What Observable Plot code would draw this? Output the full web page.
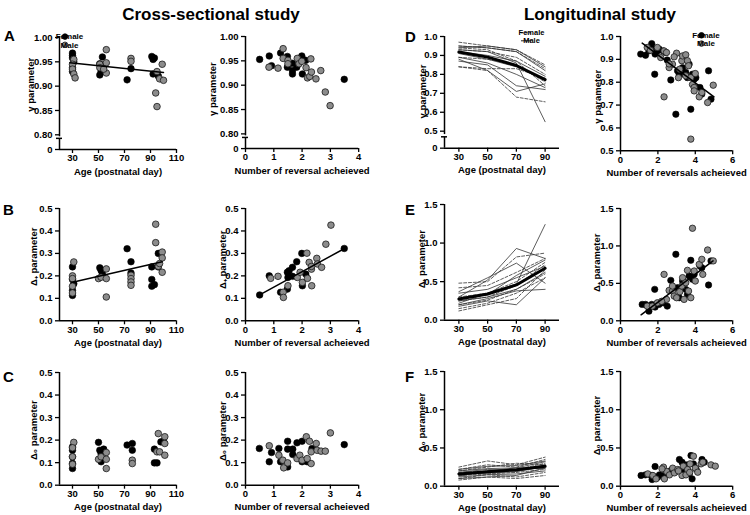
<!DOCTYPE html>
<html><head><meta charset="utf-8">
<script src="https://cdn.jsdelivr.net/npm/d3@7"></script>
<script src="https://cdn.jsdelivr.net/npm/@observablehq/plot@0.6"></script>
<style>
body{margin:0;background:#fff;}
#fig{position:relative;width:750px;height:515px;overflow:hidden;background:#fff;}
</style></head><body><div id="fig"></div>
<script>
// ---------------- DATA ----------------
const ageTicksCS = [30, 50, 70, 90, 110];
const revTicksCS = [0, 1, 2, 3, 4];
const ageTicksL = [30, 50, 70, 90];
const revTicksL = [0, 2, 4, 6];
const sexLabels = ["Female", "Male"];

// Cross-sectional: gamma vs age
const csAgeGammaF = [[30,0.968],[30,0.963],[30,0.958],[31,0.950],[30,0.938],[30,0.930],[51,0.946],[53,0.960],[52,0.930],[51,0.923],[54,0.940],[72,0.913],[75,0.936],[91,0.961],[92,0.955],[93,0.958],[92,0.925],[96,0.921]];
const csAgeGammaM = [[31,0.955],[30,0.945],[30,0.935],[31,0.925],[32,0.917],[51,0.945],[51,0.938],[56,0.975],[56,0.948],[56,0.927],[54,0.935],[75,0.957],[75,0.951],[95,0.930],[99,0.945],[97,0.915],[100,0.912],[94,0.886],[95,0.858]];
const csAgeGammaFit = [[28,0.948],[100,0.928]];
// Cross-sectional: gamma vs reversals
const csRevGammaF = [[0.5,0.953],[0.84,0.960],[0.92,0.940],[1.24,0.966],[1.48,0.959],[1.48,0.937],[1.54,0.944],[1.66,0.945],[1.66,0.930],[1.66,0.923],[1.81,0.937],[1.99,0.960],[2.01,0.954],[2.01,0.923],[2.13,0.951],[3.49,0.912]];
const csRevGammaM = [[0.83,0.937],[1.15,0.935],[1.33,0.975],[1.33,0.955],[1.5,0.951],[1.5,0.944],[1.83,0.955],[1.89,0.944],[1.99,0.949],[2.14,0.936],[2.19,0.915],[2.27,0.918],[2.31,0.954],[2.33,0.927],[2.49,0.913],[2.66,0.930],[2.82,0.886],[2.99,0.858]];
// Cross-sectional: delta+ vs age
const csAgeDplusF = [[30,0.24],[30,0.184],[30,0.136],[30,0.113],[31,0.165],[51,0.236],[52,0.224],[53,0.209],[72,0.321],[75,0.263],[75,0.213],[91,0.24],[91,0.184],[93,0.161],[91,0.154],[96,0.24],[96,0.30]];
const csAgeDplusM = [[31,0.262],[30,0.2],[30,0.188],[30,0.154],[30,0.124],[50,0.188],[52,0.194],[56,0.231],[56,0.188],[56,0.106],[75,0.203],[75,0.188],[75,0.173],[75,0.158],[94,0.43],[94,0.348],[96,0.243],[99,0.306],[99,0.28],[99,0.216],[97,0.255]];
const csAgeDplusFit = [[30,0.172],[99,0.263]];
// Cross-sectional: delta+ vs reversals
const csRevDplusF = [[0.5,0.115],[0.84,0.2],[1.24,0.127],[1.48,0.141],[1.48,0.216],[1.54,0.223],[1.66,0.238],[1.66,0.198],[1.81,0.263],[1.99,0.3],[2.01,0.156],[2.13,0.208],[3.49,0.322],[1.5,0.193]];
const csRevDplusM = [[0.89,0.189],[1.15,0.198],[1.33,0.127],[1.34,0.104],[1.5,0.156],[1.83,0.193],[1.93,0.216],[2.01,0.171],[2.17,0.301],[2.19,0.189],[2.25,0.26],[2.33,0.23],[2.34,0.156],[2.52,0.278],[2.54,0.253],[2.69,0.238],[2.84,0.341],[3.02,0.426],[2.33,0.242]];
const csRevDplusFit = [[0.5,0.115],[3.5,0.322]];
// Cross-sectional: delta0 vs age
const csAgeDzeroF = [[30,0.155],[30,0.126],[30,0.097],[30,0.074],[30,0.17],[50,0.19],[51,0.155],[52,0.14],[52,0.104],[54,0.16],[72,0.178],[76,0.185],[76,0.155],[93,0.16],[93,0.099],[95,0.099],[98,0.192],[100,0.195]];
const csAgeDzeroM = [[31,0.19],[30,0.166],[30,0.126],[30,0.093],[50,0.115],[52,0.126],[56,0.145],[56,0.115],[56,0.074],[76,0.111],[76,0.096],[95,0.148],[97,0.148],[96,0.229],[101,0.215],[101,0.185],[101,0.133]];
// Cross-sectional: delta0 vs reversals
const csRevDzeroF = [[0.49,0.163],[0.84,0.104],[0.92,0.145],[1.18,0.163],[1.24,0.104],[1.49,0.195],[1.49,0.16],[1.49,0.081],[1.67,0.16],[1.67,0.136],[1.82,0.188],[2.0,0.195],[2.0,0.104],[2.18,0.104],[2.35,0.163],[3.49,0.18]];
const csRevDzeroM = [[0.84,0.175],[1.18,0.133],[1.32,0.111],[1.35,0.077],[1.49,0.099],[1.82,0.118],[1.92,0.133],[2.0,0.111],[2.15,0.215],[2.26,0.195],[2.32,0.096],[2.32,0.148],[2.5,0.185],[2.53,0.155],[2.67,0.151],[2.82,0.151],[3.0,0.232],[2.18,0.118]];

// Longitudinal: ages and per-animal trajectories
const lAges = [30, 50, 70, 90];
const lGammaF = [[0.97,0.95,0.93,0.85],[0.84,0.83,0.83,0.78],[0.84,0.82,0.68,0.655],[0.95,0.94,0.92,0.83],[0.93,0.92,0.89,0.80],[0.94,0.93,0.87,0.74],[0.89,0.88,0.85,0.76]];
const lGammaM = [[0.88,0.82,0.71,0.75],[0.87,0.85,0.74,0.72],[0.93,0.92,0.86,0.55],[0.94,0.95,0.93,0.84],[0.92,0.90,0.87,0.79],[0.95,0.94,0.92,0.82],[0.91,0.88,0.84,0.77],[0.89,0.86,0.80,0.73]];
const lGammaMean = [0.918, 0.891, 0.847, 0.772];
const lDplusF = [[0.48,0.50,0.82,0.87],[0.42,0.45,0.62,0.80],[0.25,0.30,0.45,0.72],[0.20,0.26,0.40,0.60],[0.15,0.22,0.35,0.55],[0.12,0.20,0.28,0.65],[0.30,0.35,0.50,0.75]];
const lDplusM = [[0.30,0.52,0.93,0.80],[0.37,0.55,0.74,0.48],[0.22,0.35,0.47,1.24],[0.18,0.25,0.20,0.55],[0.25,0.30,0.40,0.62],[0.35,0.40,0.55,0.70],[0.20,0.28,0.38,0.40],[0.28,0.33,0.58,0.78]];
const lDplusMean = [0.274, 0.339, 0.457, 0.674];
const lDzeroF = [[0.25,0.33,0.28,0.38],[0.22,0.28,0.25,0.35],[0.10,0.15,0.12,0.18],[0.08,0.12,0.10,0.14],[0.18,0.20,0.22,0.30],[0.14,0.16,0.18,0.22],[0.20,0.25,0.30,0.28]];
const lDzeroM = [[0.15,0.18,0.20,0.25],[0.12,0.15,0.16,0.20],[0.20,0.23,0.24,0.32],[0.10,0.12,0.14,0.24],[0.18,0.22,0.20,0.28],[0.13,0.20,0.24,0.23],[0.16,0.17,0.19,0.26],[0.22,0.26,0.27,0.33]];
const lDzeroMean = [0.16, 0.19, 0.215, 0.26];

// Longitudinal: parameters vs reversals
const lRevGammaF = [[1.08,0.923],[1.34,0.918],[1.67,0.969],[1.74,0.952],[1.85,0.923],[1.83,0.835],[2.06,0.945],[2.42,0.930],[2.5,0.897],[2.69,0.81],[2.96,0.66],[3.05,0.85],[3.14,0.835],[3.32,0.864],[3.49,0.843],[3.58,0.82],[3.67,0.879],[3.76,0.682],[3.85,0.835],[3.94,0.813],[4.03,0.82],[4.25,0.777],[4.35,0.748],[4.71,0.85],[4.84,0.726],[3.4,0.835],[2.28,0.937],[1.97,0.937],[1.52,0.937]];
const lRevGammaM = [[1.43,0.952],[1.97,0.952],[2.33,0.937],[2.46,0.93],[2.6,0.864],[2.78,0.879],[3.0,0.927],[3.17,0.857],[3.28,0.894],[3.32,0.915],[3.49,0.92],[3.58,0.894],[3.64,0.872],[3.49,0.828],[3.76,0.82],[3.85,0.79],[3.94,0.777],[4.0,0.838],[3.94,0.762],[4.21,0.736],[4.35,0.755],[4.66,0.711],[4.96,0.787],[2.33,0.736],[3.76,0.551],[3.1,0.82],[2.87,0.911],[2.15,0.908],[1.6,0.94],[2.6,0.88]];
const lRevGammaFit = [[1.16,0.971],[5.0,0.736]];
const lRevDplusF = [[1.16,0.219],[1.34,0.219],[1.85,0.183],[1.83,0.42],[2.06,0.219],[2.28,0.24],[2.5,0.196],[2.69,0.54],[2.96,0.888],[3.05,0.442],[3.14,0.308],[3.32,0.531],[3.49,0.42],[3.58,0.353],[3.76,0.808],[3.85,0.554],[3.94,0.62],[4.25,0.732],[4.35,0.71],[4.71,0.478],[4.84,0.8],[3.67,0.598],[1.52,0.129],[1.67,0.219]];
const lRevDplusM = [[1.43,0.196],[1.97,0.24],[2.33,0.62],[2.46,0.286],[2.6,0.406],[2.78,0.397],[2.87,0.33],[3.0,0.308],[3.17,0.388],[3.28,0.464],[3.32,0.576],[3.49,0.509],[3.58,0.674],[3.64,0.397],[3.76,0.308],[3.85,1.236],[3.94,0.665],[4.0,0.531],[4.21,0.754],[4.35,0.821],[4.66,0.946],[4.96,0.8],[4.4,0.62],[3.4,0.286],[1.7,0.196],[2.78,0.464],[2.2,0.26]];
const lRevDplusFit = [[1.1,0.08],[4.95,0.80]];
const lRevDzeroF = [[1.1,0.14],[1.33,0.148],[1.64,0.14],[1.69,0.087],[1.85,0.257],[1.99,0.118],[2.08,0.148],[2.3,0.14],[2.7,0.205],[3.15,0.349],[3.29,0.314],[3.42,0.227],[3.5,0.279],[3.68,0.161],[3.77,0.401],[3.83,0.096],[3.9,0.292],[4.04,0.227],[4.36,0.349],[4.48,0.314],[3.33,0.183],[2.97,0.192],[2.5,0.16]];
const lRevDzeroM = [[1.46,0.161],[1.73,0.14],[1.9,0.096],[2.3,0.249],[2.35,0.096],[2.47,0.192],[2.62,0.148],[2.79,0.236],[2.88,0.174],[3.06,0.218],[3.29,0.14],[3.36,0.262],[3.5,0.148],[3.59,0.218],[3.72,0.292],[3.9,0.392],[4.0,0.236],[4.13,0.183],[4.31,0.292],[4.4,0.314],[4.84,0.279],[5.07,0.262],[2.22,0.227],[3.1,0.2],[3.7,0.18]];

// ---------------- DRAWING ----------------
const FONT = '"Liberation Sans", Arial, Helvetica, sans-serif';
const fig = document.getElementById("fig");
const ML = 50, MT = 12, MR = 14, MB = 34;
const BLACK = "#000", GRAY = "#8c8c8c", GRAYSTROKE = "#1a1a1a";
const ident = v => v;

// broken-axis mapping: values below `lo` are squeezed into a short stub of `gap` units
function brokenAxis(lo, gap) {
  const k = gap / lo;
  const t = v => v >= lo ? v : lo - (lo - v) * k;
  t.inv = u => u >= lo ? u : lo - (lo - u) / k;
  t.min = lo - gap;
  return t;
}

// background text layer (titles and panel letters)
const bg = d3.create("svg").attr("width", 750).attr("height", 515)
  .style("position", "absolute").style("left", "0px").style("top", "0px")
  .style("font-family", FONT).style("font-weight", "bold");
bg.append("text").attr("x", 211).attr("y", 20).attr("text-anchor", "middle").attr("font-size", 17).text("Cross-sectional study");
bg.append("text").attr("x", 600).attr("y", 20).attr("text-anchor", "middle").attr("font-size", 17).text("Longitudinal study");
[["A", 4, 41], ["B", 3, 215], ["C", 3, 382], ["D", 405, 42], ["E", 405, 215], ["F", 405, 382]].forEach(([t, x, y]) =>
  bg.append("text").attr("x", x).attr("y", y).attr("font-size", 15).text(t));
fig.append(bg.node());

const pairs = (arr, t = ident) => arr.map(([x, y]) => ({x, y: t(y)}));
const traj = (rows, prefix, t) => rows.flatMap((r, i) => r.map((v, j) => ({x: lAges[j], y: t(v), id: prefix + i})));

function dotMarks(F, M, r = 3.3, t = ident) {
  return [
    Plot.dot(pairs(F, t), {x: "x", y: "y", r, fill: BLACK, stroke: BLACK, strokeWidth: 0.6}),
    Plot.dot(pairs(M, t), {x: "x", y: "y", r, fill: GRAY, stroke: GRAYSTROKE, strokeWidth: 0.8})
  ];
}
function fitMark(fit, t = ident) {
  return Plot.line(pairs(fit, t), {x: "x", y: "y", stroke: BLACK, strokeWidth: 1.5});
}
function trajMarks(F, M, mean, t = ident) {
  return [
    Plot.line(traj(F, "f", t), {x: "x", y: "y", z: "id", stroke: "#333", strokeWidth: 0.8, strokeDasharray: "3,1.8"}),
    Plot.line(traj(M, "m", t), {x: "x", y: "y", z: "id", stroke: "#333", strokeWidth: 0.8}),
    Plot.line(mean.map((v, j) => ({x: lAges[j], y: t(v)})), {x: "x", y: "y", stroke: BLACK, strokeWidth: 3})
  ];
}

function panel(c) {
  const [fl, fr] = c.x.px;
  const [fbot, ftop] = c.y.px;
  const t = c.y.t || ident;
  const inv = t.inv || ident;
  const left = fl - ML, top = ftop - MT;
  const width = (fr - fl) + ML + MR, height = (fbot - ftop) + MT + MB;
  const ymin = c.y.domain[0], ymax = c.y.domain[1];
  const xmin = c.x.domain[0];
  const marks = [];
  marks.push(Plot.ruleY([ymin], {stroke: BLACK, strokeWidth: 1.5}));
  if (c.y.brk) {
    const up = t(c.y.brk[0]), lowTop = t(c.y.brk[1]);
    marks.push(Plot.ruleX([xmin], {y1: up, y2: ymax, stroke: BLACK, strokeWidth: 1.5}));
    marks.push(Plot.ruleX([xmin], {y1: ymin, y2: lowTop, stroke: BLACK, strokeWidth: 1.5}));
    marks.push((index, scales) => {
      const g = d3.create("svg:g");
      const X = scales.x(xmin), Y = scales.y(lowTop);
      g.append("line").attr("x1", X - 3).attr("x2", X + 3).attr("y1", Y).attr("y2", Y)
        .attr("stroke", BLACK).attr("stroke-width", 1.5);
      return g.node();
    });
  } else {
    marks.push(Plot.ruleX([xmin], {stroke: BLACK, strokeWidth: 1.5}));
  }
  marks.push(...c.marks);
  marks.push(Plot.axisX({ticks: c.x.ticks, tickFormat: d => String(d), tickSize: 4, tickPadding: 1, strokeWidth: 1.3, label: null}));
  marks.push(Plot.axisY({ticks: c.y.ticks.map(t), tickFormat: d => c.y.fmt(inv(d)), tickSize: 4, tickPadding: 3, strokeWidth: 1.3, label: null}));
  marks.push(Plot.text([c.xLabel], {text: d => d, frameAnchor: "bottom", dy: 22, lineAnchor: "middle", fontSize: 9.5, fontWeight: "bold"}));
  marks.push(Plot.text([c.yLabel], {text: d => d, frameAnchor: "top-left", dx: c.yLabelPos[0] - fl, dy: c.yLabelPos[1] - ftop,
    rotate: -90, textAnchor: "middle", lineAnchor: "middle", fontSize: 9.5, fontWeight: "bold"}));
  if (c.legend) {
    const lg = c.legend;
    marks.push(() => {
      const g = d3.create("svg:g").attr("font-size", lg.fs).attr("font-weight", "bold");
      sexLabels.forEach((lab, i) => {
        const x = lg.x - left, y = lg.y - top + i * lg.gap;
        if (lg.kind === "dot") {
          g.append("circle").attr("cx", x).attr("cy", y).attr("r", 2.8)
            .attr("fill", i === 0 ? BLACK : GRAY).attr("stroke", i === 0 ? BLACK : GRAYSTROKE).attr("stroke-width", 0.8);
          g.append("text").attr("x", x + 4.5).attr("y", y).attr("dy", "0.35em").text(lab);
        } else {
          g.append("line").attr("x1", x - 10).attr("x2", x).attr("y1", y).attr("y2", y)
            .attr("stroke", "#222").attr("stroke-width", 1).attr("stroke-dasharray", i === 0 ? "2.5,1.5" : null);
          g.append("text").attr("x", x + 0.5).attr("y", y).attr("dy", "0.35em").text(lab);
        }
      });
      return g.node();
    });
  }
  const svg = Plot.plot({
    width, height, marginLeft: ML, marginTop: MT, marginRight: MR, marginBottom: MB,
    x: {domain: c.x.domain, range: [ML, ML + (fr - fl)]},
    y: {domain: c.y.domain, range: [fbot - top, ftop - top]},
    style: {fontFamily: FONT, fontSize: "9.5px", fontWeight: "bold", background: "transparent", overflow: "visible", color: "#000"},
    marks
  });
  svg.style.position = "absolute";
  svg.style.left = left + "px";
  svg.style.top = top + "px";
  fig.append(svg);
}

const isZero = d => Math.abs(d) < 1e-9;
const f2 = d => isZero(d) ? "0" : d.toFixed(2);
const f1 = d => d.toFixed(1);
const f1z = d => isZero(d) ? "0" : d.toFixed(1);
const XAGE_CS = {domain: [20, 110], px: [59, 176], ticks: ageTicksCS};
const XREV_CS = {domain: [0, 4], px: [244.5, 357.7], ticks: revTicksCS};
const XAGE_L = {domain: [20, 100], px: [443.5, 558.5], ticks: ageTicksL};
const XREV_L = {domain: [0, 6], px: [619.5, 731.7], ticks: revTicksL};
const ageLab = "Age (postnatal day)";
const revLabCS = "Number of reversal acheieved";
const revLabL = "Number of reversals acheieved";
const gLab = "γ parameter", dpLab = "Δ₊ parameter", d0Lab = "Δ₀ parameter";
const gTicksCS = [0, 0.8, 0.85, 0.9, 0.95, 1.0];
const dTicksCS = [0, 0.1, 0.2, 0.3, 0.4, 0.5];
const gTicksL = [0, 0.5, 0.6, 0.7, 0.8, 0.9, 1.0];
const gTicksL2 = [0.5, 0.6, 0.7, 0.8, 0.9, 1.0];
const dTicksL = [0, 0.5, 1.0, 1.5];

const tA = brokenAxis(0.8, 0.0302);
const tD = brokenAxis(0.5, 0.0898);

// Row A
panel({x: XAGE_CS, y: {domain: [tA.min, 1.0], px: [148.7, 36.7], t: tA, ticks: gTicksCS, fmt: f2, brk: [0.69, 0.58]},
  xLabel: ageLab, yLabel: gLab, yLabelPos: [30, 84],
  legend: {kind: "dot", x: 65, y: 36.3, gap: 8.2, fs: 8},
  marks: [...dotMarks(csAgeGammaF, csAgeGammaM, 3.3, tA), fitMark(csAgeGammaFit, tA)]});
panel({x: XREV_CS, y: {domain: [tA.min, 1.0], px: [148.5, 36.4], t: tA, ticks: gTicksCS, fmt: f2, brk: [0.69, 0.58]},
  xLabel: revLabCS, yLabel: gLab, yLabelPos: [212, 89],
  marks: [...dotMarks(csRevGammaF, csRevGammaM, 3.3, tA)]});
// Row B
panel({x: XAGE_CS, y: {domain: [0, 0.5], px: [320, 207.7], ticks: dTicksCS, fmt: f1},
  xLabel: ageLab, yLabel: dpLab, yLabelPos: [33, 256],
  marks: [...dotMarks(csAgeDplusF, csAgeDplusM), fitMark(csAgeDplusFit)]});
panel({x: XREV_CS, y: {domain: [0, 0.5], px: [320, 207.7], ticks: dTicksCS, fmt: f1},
  xLabel: revLabCS, yLabel: dpLab, yLabelPos: [221.5, 259],
  marks: [...dotMarks(csRevDplusF, csRevDplusM), fitMark(csRevDplusFit)]});
// Row C
panel({x: XAGE_CS, y: {domain: [0, 0.5], px: [485, 372.3], ticks: dTicksCS, fmt: f1},
  xLabel: ageLab, yLabel: d0Lab, yLabelPos: [33, 430],
  marks: [...dotMarks(csAgeDzeroF, csAgeDzeroM)]});
panel({x: XREV_CS, y: {domain: [0, 0.5], px: [485, 372.3], ticks: dTicksCS, fmt: f1},
  xLabel: revLabCS, yLabel: d0Lab, yLabelPos: [221.5, 431],
  marks: [...dotMarks(csRevDzeroF, csRevDzeroM)]});
// Row D
panel({x: XAGE_L, y: {domain: [tD.min, 1.0], px: [147.7, 36], t: tD, ticks: gTicksL, fmt: f1z, brk: [0.40, 0.32]},
  xLabel: ageLab, yLabel: gLab, yLabelPos: [421.5, 91],
  legend: {kind: "line", x: 530.5, y: 32.8, gap: 8, fs: 7.5},
  marks: trajMarks(lGammaF, lGammaM, lGammaMean, tD)});
panel({x: XREV_L, y: {domain: [0.5, 1.0], px: [150, 35.7], ticks: gTicksL2, fmt: f1},
  xLabel: revLabL, yLabel: gLab, yLabelPos: [596.5, 96],
  legend: {kind: "dot", x: 701, y: 35, gap: 8.3, fs: 8},
  marks: [...dotMarks(lRevGammaF, lRevGammaM, 3.2), fitMark(lRevGammaFit)]});
// Row E
panel({x: XAGE_L, y: {domain: [0, 1.5], px: [320, 204.3], ticks: dTicksL, fmt: f1},
  xLabel: ageLab, yLabel: dpLab, yLabelPos: [421, 259],
  marks: trajMarks(lDplusF, lDplusM, lDplusMean)});
panel({x: XREV_L, y: {domain: [0, 1.5], px: [320, 207.7], ticks: dTicksL, fmt: f1},
  xLabel: revLabL, yLabel: dpLab, yLabelPos: [595.5, 262],
  marks: [...dotMarks(lRevDplusF, lRevDplusM, 3.2), fitMark(lRevDplusFit)]});
// Row F
panel({x: XAGE_L, y: {domain: [0, 1.5], px: [485.7, 371], ticks: dTicksL, fmt: f1},
  xLabel: ageLab, yLabel: d0Lab, yLabelPos: [421, 422],
  marks: trajMarks(lDzeroF, lDzeroM, lDzeroMean)});
panel({x: XREV_L, y: {domain: [0, 1.5], px: [485.7, 371], ticks: dTicksL, fmt: f1},
  xLabel: revLabL, yLabel: d0Lab, yLabelPos: [595.5, 425],
  marks: [...dotMarks(lRevDzeroF, lRevDzeroM, 3.2)]});
</script></body></html>
